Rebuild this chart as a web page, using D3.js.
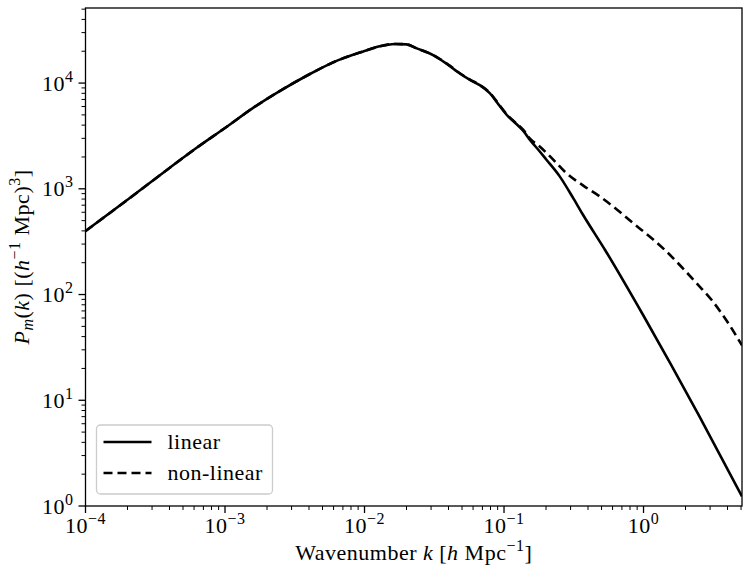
<!DOCTYPE html>
<html>
<head>
<meta charset="utf-8">
<script src="https://cdn.jsdelivr.net/npm/d3@7"></script>
<style>
  body { margin: 0; background: #fff; }
  text { font-family: "Liberation Serif", "Times New Roman", serif; fill: #000; letter-spacing: 0.5px; }
</style>
</head>
<body>
<svg id="drawing_region"></svg>
<script>
// wavenumbers k [h/Mpc] and P(k) [(Mpc/h)^3]
const k_linear = [1e-4, 2e-4, 4e-4, 6.3e-4, 1e-3, 1.6e-3, 2.5e-3, 4e-3, 6.3e-3, 1e-2,
    1.26e-2, 1.66e-2, 2e-2, 2.37e-2, 3.1e-2, 4.1e-2, 4.6e-2, 5.7e-2, 6.7e-2, 7.9e-2,
    9.35e-2, 0.107, 0.12, 0.137, 0.1535, 0.181, 0.2, 0.25, 0.314, 0.37,
    0.53, 1.0, 1.585, 2.51, 5.08];
const p_linear = [398, 787, 1574, 2455, 3758, 5861, 8490, 12050, 16200, 20100,
    22150, 23440, 23230, 21280, 18410, 14450, 12880, 10720, 9550, 8040,
    6030, 4840, 4220, 3550, 2900, 2240, 1905, 1318, 813, 562,
    264, 63, 21.4, 7.08, 1.23];

const k_nonlinear = [1e-4, 2e-4, 4e-4, 6.3e-4, 1e-3, 1.6e-3, 2.5e-3, 4e-3, 6.3e-3, 1e-2,
    1.26e-2, 1.66e-2, 2e-2, 2.37e-2, 3.1e-2, 4.1e-2, 4.6e-2, 5.7e-2, 6.7e-2, 7.9e-2,
    9.35e-2, 0.107, 0.12, 0.137, 0.1535, 0.181, 0.22, 0.281, 0.37, 0.488,
    0.65, 0.845, 1.15, 1.42, 2.4, 3.08, 4.0, 5.08];
const p_nonlinear = [398, 787, 1574, 2455, 3758, 5861, 8490, 12050, 16200, 20100,
    22150, 23440, 23230, 21300, 18450, 14550, 12950, 10800, 9600, 8100,
    6100, 4900, 4260, 3630, 2985, 2500, 1950, 1400, 1072, 843,
    631, 471, 339, 264, 128, 88.7, 55, 33];

const x_ticks = [-4, -3, -2, -1, 0];
const y_ticks = [0, 1, 2, 3, 4];
const legend_labels = ["linear", "non-linear"];

const series = [
    { label: legend_labels[0], dash: null, values: k_linear.map((k, i) => ({ k: k, p: p_linear[i] })) },
    { label: legend_labels[1], dash: "9,5", values: k_nonlinear.map((k, i) => ({ k: k, p: p_nonlinear[i] })) }
];

class PowerSpectrum {
    constructor(config, data) {
        this.config = {
            parent: config.parent,
            width: config.width || 743,
            height: config.height || 567,
            margin: config.margin || {top:10, right:10, bottom:10, left:10}
        };
        this.data = data;
        this.init();
    }

    init() {
        let self = this;
        self.svg = d3.select(self.config.parent)
            .attr('width', self.config.width)
            .attr('height', self.config.height);

        self.inner_width = self.config.width - self.config.margin.left - self.config.margin.right;
        self.inner_height = self.config.height - self.config.margin.top - self.config.margin.bottom;

        self.chart = self.svg.append('g')
            .attr('transform', `translate(${self.config.margin.left}, ${self.config.margin.top})`);

        self.xscale = d3.scaleLog().domain([1e-4, 5.08]).range([0, self.inner_width]);
        self.yscale = d3.scaleLog().domain([1, Math.pow(10, 4.71)]).range([self.inner_height, 0]);

        self.svg.append('clipPath').attr('id', 'clip')
            .append('rect').attr('width', self.inner_width).attr('height', self.inner_height);
    }

    minor(scale) {
        const [a, b] = scale.domain();
        let out = [];
        for (let e = Math.floor(Math.log10(a)); e <= Math.ceil(Math.log10(b)); e++) {
            for (let m = 2; m <= 9; m++) {
                const v = m * Math.pow(10, e);
                if (v >= a && v <= b) out.push(v);
            }
        }
        return out;
    }

    render() {
        let self = this;
        const W = self.inner_width, H = self.inner_height;

        // minor ticks
        self.chart.append('g').selectAll('line').data(self.minor(self.xscale)).join('line')
            .attr('x1', d => self.xscale(d)).attr('x2', d => self.xscale(d))
            .attr('y1', H).attr('y2', H + 4).attr('stroke', '#000').attr('stroke-width', 1);
        self.chart.append('g').selectAll('line').data(self.minor(self.yscale)).join('line')
            .attr('y1', d => self.yscale(d)).attr('y2', d => self.yscale(d))
            .attr('x1', 0).attr('x2', -4).attr('stroke', '#000').attr('stroke-width', 1);

        // major ticks
        self.chart.append('g').selectAll('line').data(x_ticks).join('line')
            .attr('x1', d => self.xscale(Math.pow(10, d))).attr('x2', d => self.xscale(Math.pow(10, d)))
            .attr('y1', H).attr('y2', H + 7).attr('stroke', '#000').attr('stroke-width', 1.3);
        self.chart.append('g').selectAll('line').data(y_ticks).join('line')
            .attr('y1', d => self.yscale(Math.pow(10, d))).attr('y2', d => self.yscale(Math.pow(10, d)))
            .attr('x1', 0).attr('x2', -7).attr('stroke', '#000').attr('stroke-width', 1.3);

        // tick labels
        const xl = self.chart.append('g').selectAll('text').data(x_ticks).join('text')
            .attr('x', d => self.xscale(Math.pow(10, d)))
            .attr('y', H + 27)
            .attr('text-anchor', 'middle')
            .style('font-size', '22px');
        xl.append('tspan').text('10');
        xl.append('tspan').attr('dy', -9).style('font-size', '16px')
            .text(d => String(d).replace('-', '\u2212'));

        const yl = self.chart.append('g').selectAll('text').data(y_ticks).join('text')
            .attr('x', -12)
            .attr('y', d => self.yscale(Math.pow(10, d)) + 7.5)
            .attr('text-anchor', 'end')
            .style('font-size', '22px');
        yl.append('tspan').text('10');
        yl.append('tspan').attr('dy', -9).style('font-size', '16px').text(d => d);

        // curves
        const line = d3.line()
            .x(d => self.xscale(d.k))
            .y(d => self.yscale(d.p))
            .curve(d3.curveMonotoneX);

        self.chart.append('g').attr('clip-path', 'url(#clip)')
            .selectAll('path').data(self.data).join('path')
            .attr('d', d => line(d.values))
            .attr('fill', 'none')
            .attr('stroke', '#000')
            .attr('stroke-width', 2.6)
            .attr('stroke-dasharray', d => d.dash);

        // frame
        self.chart.append('rect')
            .attr('width', W).attr('height', H)
            .attr('fill', 'none').attr('stroke', '#000').attr('stroke-width', 1.3);

        // axis labels
        const xlab = self.svg.append('text')
            .attr('x', self.config.margin.left + W / 2).attr('y', 560)
            .attr('text-anchor', 'middle')
            .style('font-size', '22px');
        xlab.append('tspan').text('Wavenumber ');
        xlab.append('tspan').style('font-style', 'italic').text('k');
        xlab.append('tspan').text(' [');
        xlab.append('tspan').style('font-style', 'italic').text('h');
        xlab.append('tspan').text(' Mpc');
        xlab.append('tspan').attr('dy', -9).style('font-size', '16px').text('\u22121');
        xlab.append('tspan').attr('dy', 9).text(']');

        const ylab = self.svg.append('text')
            .attr('transform', `translate(29, ${self.config.margin.top + H / 2}) rotate(-90)`)
            .attr('text-anchor', 'middle')
            .style('font-size', '22px');
        ylab.append('tspan').style('font-style', 'italic').text('P');
        ylab.append('tspan').attr('dy', 4).style('font-size', '16px').style('font-style', 'italic').text('m');
        ylab.append('tspan').attr('dy', -4).text('(');
        ylab.append('tspan').style('font-style', 'italic').text('k');
        ylab.append('tspan').text(')  [(');
        ylab.append('tspan').style('font-style', 'italic').text('h');
        ylab.append('tspan').attr('dy', -9).style('font-size', '16px').text('\u22121');
        ylab.append('tspan').attr('dy', 9).text(' Mpc)');
        ylab.append('tspan').attr('dy', -9).style('font-size', '16px').text('3');
        ylab.append('tspan').attr('dy', 9).text(']');

        // legend
        const lg = self.chart.append('g').attr('transform', `translate(11, ${H - 81})`);
        lg.append('rect')
            .attr('width', 176).attr('height', 69).attr('rx', 4)
            .attr('fill', '#fff').attr('fill-opacity', 0.8)
            .attr('stroke', '#ccc').attr('stroke-width', 1.3);
        const item = lg.selectAll('g.item').data(self.data).join('g')
            .attr('class', 'item')
            .attr('transform', (d, i) => `translate(0, ${17 + i * 31})`);
        item.append('line')
            .attr('x1', 7).attr('x2', 55)
            .attr('stroke', '#000').attr('stroke-width', 2.6)
            .attr('stroke-dasharray', d => d.dash);
        item.append('text')
            .attr('x', 71).attr('y', 7)
            .style('font-size', '22px')
            .text(d => d.label);
    }
}

const config = {
    parent: '#drawing_region',
    width: 743,
    height: 567,
    margin: {top:8, right:1, bottom:61, left:85.5}
};
const chart = new PowerSpectrum(config, series);
chart.render();
</script>
</body>
</html>
